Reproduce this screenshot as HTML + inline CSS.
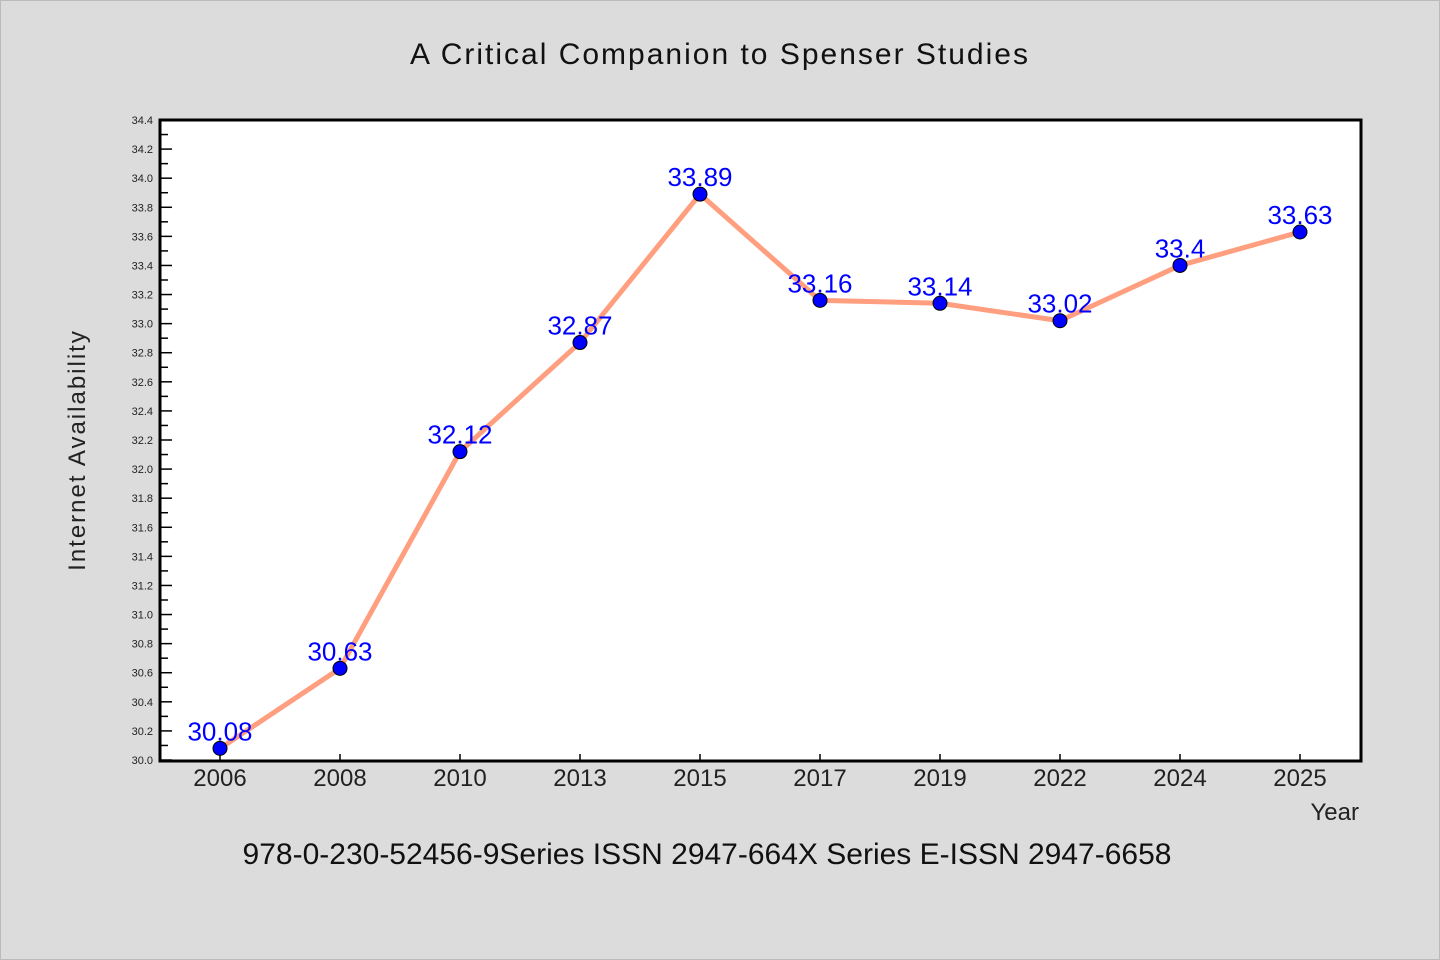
<!DOCTYPE html>
<html><head><meta charset="utf-8"><style>
body{margin:0;background:#dcdcdc}
svg{display:block}
text{font-family:"WenQuanYi Zen Hei","Liberation Sans",sans-serif}
</style></head><body>
<svg id="chart" width="1440" height="960">
<rect x="0.5" y="0.5" width="1439" height="959" fill="#dcdcdc" stroke="#bbb"/>
<text x="720" y="64" text-anchor="middle" font-size="30" fill="#111" letter-spacing="2">A Critical Companion to Spenser Studies</text>
<rect x="160" y="120" width="1201" height="641" fill="#fff"/>
<g id="yticks"></g><g id="xticks"></g>
<polyline id="line" fill="none" stroke="#ff9f7f" stroke-width="5" stroke-linejoin="round"/>
<g id="pts"></g>
<rect x="160" y="120" width="1201" height="641" fill="none" stroke="#000" stroke-width="3"/>
<text transform="translate(85,450) rotate(-90)" text-anchor="middle" font-size="24" fill="#222" letter-spacing="2">Internet Availability</text>
<text x="1359" y="820" text-anchor="end" font-size="24" fill="#222">Year</text>
<text x="707" y="864" text-anchor="middle" font-size="30" fill="#111">978-0-230-52456-9Series ISSN 2947-664X Series E-ISSN 2947-6658</text>
</svg>
<script>
const categories=["2006","2008","2010","2013","2015","2017","2019","2022","2024","2025"];
const values=[30.08,30.63,32.12,32.87,33.89,33.16,33.14,33.02,33.4,33.63];
const valueLabels=["30.08","30.63","32.12","32.87","33.89","33.16","33.14","33.02","33.4","33.63"];
const yMin=30.0,yMax=34.4;
const NS="http://www.w3.org/2000/svg";
function y(v){return 760-(v-yMin)/(yMax-yMin)*640;}
function x(i){return 220+i*120;}
function mk(t,a,p){const e=document.createElementNS(NS,t);for(const k in a)e.setAttribute(k,a[k]);p.appendChild(e);return e;}
const yt=document.getElementById('yticks');
for(let k=0;k<=44;k++){const v=yMin+k*0.1,yy=y(v),major=k%2==0;
 const l=mk('line',{x1:160,x2:major?172:168,y1:yy,y2:yy,stroke:'#000','stroke-width':1.5},yt);
 
 
 if(major){const t=mk('text',{x:153,y:yy+4,'text-anchor':'end','font-size':11,fill:'#222'},yt);t.textContent=v.toFixed(1);
 
 }}
const xt=document.getElementById('xticks');
categories.forEach((c,i)=>{const l=mk('line',{x1:x(i),x2:x(i),y1:760,y2:754,stroke:'#000','stroke-width':1.5},xt);
 
 
 const t=mk('text',{x:x(i),y:786,'text-anchor':'middle','font-size':24,fill:'#222'},xt);t.textContent=c;
 
 });
document.getElementById('line').setAttribute('points',values.map((v,i)=>x(i)+','+y(v)).join(' '));
const pts=document.getElementById('pts');
values.forEach((v,i)=>{const c=mk('circle',{cx:x(i),cy:y(v),r:7,fill:'#0000ff',stroke:'#000','stroke-width':1},pts);
 
 
 const t=mk('text',{x:x(i),y:y(v)-8,'text-anchor':'middle','font-size':26,fill:'#0000ff'},pts);t.textContent=valueLabels[i];
 
 });
</script>
</body></html>
